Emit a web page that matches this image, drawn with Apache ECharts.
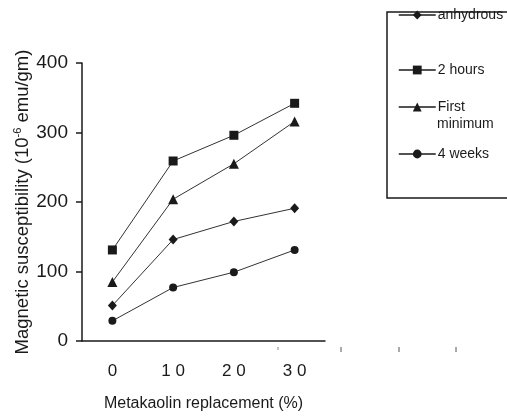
<!DOCTYPE html>
<html>
<head>
<meta charset="utf-8">
<script src="https://cdn.jsdelivr.net/npm/echarts@6/dist/echarts.min.js"></script>
<style>
  html, body { margin: 0; padding: 0; background: #fff; }
  #chart { width: 507px; height: 417px; }
</style>
</head>
<body>
<div id="chart"></div>
<script>
// categories (metakaolin %), shown with the spaced digits of the original
const categories = ['0', '1 0', '2 0', '3 0'];
const yTicks = [0, 100, 200, 300, 400];

const anhydrous = [51, 146, 172, 191];
const twoHours = [131, 259, 296, 342];
const firstMinimum = [85, 204, 255, 316];
const fourWeeks = [29, 77, 99, 131];

const FONT = 'Liberation Sans, Arial, sans-serif';
const INK = '#1a1a1a';

function makeSeries (name, data, symbol, size) {
  return {
    name: name,
    type: 'line',
    data: data,
    symbol: symbol,
    symbolSize: size,
    showSymbol: true,
    animation: false,
    itemStyle: { color: INK },
    lineStyle: { color: '#333', width: 1 },
  };
}

// one legend per entry so each row sits where the original puts it
function makeLegend (name, top, text) {
  return {
    data: [name],
    left: 398,
    top: top,
    orient: 'vertical',
    itemWidth: 37,
    itemHeight: 11,
    padding: 0,
    selectedMode: false,
    lineStyle: { width: 1.5, color: INK },
    formatter: function () { return text; },
    textStyle: { fontFamily: FONT, fontSize: 14, color: INK, padding: [0, 0, 0, -3] },
  };
}

const chart = echarts.init(document.getElementById('chart'));
chart.setOption({
  backgroundColor: '#fff',
  animation: false,
  grid: { left: 82, right: 182, top: 63, bottom: 70 },
  legend: [
    makeLegend('anhydrous', 8, 'anhydrous'),
    makeLegend('2 hours', 63, '2 hours'),
    makeLegend('First minimum', 100, 'First'),
    makeLegend('4 weeks', 147, '4 weeks'),
  ],
  graphic: [
    { type: 'rect', shape: { x: 387, y: 12, width: 140, height: 186 },
      style: { fill: 'none', stroke: INK, lineWidth: 1.5 } },
    { type: 'text', left: 437, top: 117,
      style: { text: 'minimum', font: '14px ' + FONT, fill: INK } },
    // small stray marks under the axis in the source figure
    { type: 'line', shape: { x1: 278, y1: 347, x2: 278, y2: 350 }, style: { stroke: '#888', lineWidth: 1 } },
    { type: 'line', shape: { x1: 341, y1: 347, x2: 341, y2: 352 }, style: { stroke: '#555', lineWidth: 1 } },
    { type: 'line', shape: { x1: 399, y1: 347, x2: 399, y2: 352 }, style: { stroke: '#555', lineWidth: 1 } },
    { type: 'line', shape: { x1: 456, y1: 347, x2: 456, y2: 352 }, style: { stroke: '#555', lineWidth: 1 } },
  ],
  xAxis: {
    type: 'category',
    data: categories,
    boundaryGap: true,
    name: 'Metakaolin replacement (%)',
    nameLocation: 'middle',
    nameGap: 55,
    nameTextStyle: { fontFamily: FONT, fontSize: 16, color: INK },
    axisLine: { lineStyle: { color: INK, width: 1.5 } },
    axisTick: { show: false },
    axisLabel: { fontFamily: FONT, fontSize: 17, color: INK, margin: 22 },
    splitLine: { show: false },
  },
  yAxis: {
    type: 'value',
    min: yTicks[0],
    max: yTicks[yTicks.length - 1],
    interval: 100,
    name: 'Magnetic susceptibility (10{sup|-6} emu/gm)',
    nameLocation: 'middle',
    nameRotate: 90,
    nameGap: 49,
    nameTextStyle: {
      fontFamily: FONT, fontSize: 18.5, color: INK,
      rich: { sup: { fontFamily: FONT, fontSize: 11, color: INK, verticalAlign: 'top', padding: [0, 0, 10, 0] } },
    },
    axisLine: { show: true, lineStyle: { color: INK, width: 1.5 } },
    axisTick: { show: true, inside: false, length: 6, lineStyle: { color: INK, width: 1.5 } },
    axisLabel: { fontFamily: FONT, fontSize: 19, color: INK, margin: 14 },
    splitLine: { show: false },
  },
  series: [
    makeSeries('anhydrous', anhydrous, 'diamond', [9, 10]),
    makeSeries('2 hours', twoHours, 'rect', 9),
    makeSeries('First minimum', firstMinimum, 'triangle', 10),
    makeSeries('4 weeks', fourWeeks, 'circle', 8),
  ],
});
</script>
</body>
</html>
